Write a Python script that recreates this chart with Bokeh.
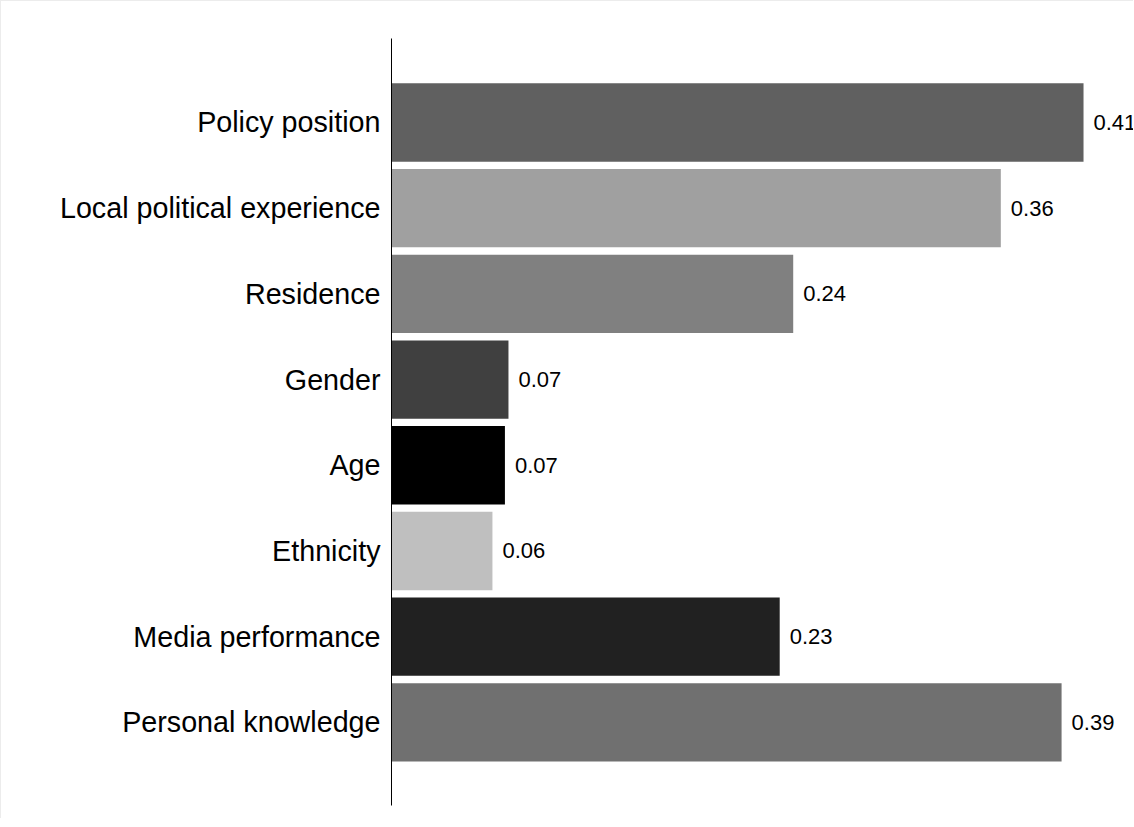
from bokeh.plotting import figure
from bokeh.models import ColumnDataSource, Range1d, FixedTicker
from bokeh.core.properties import value
from bokeh.embed import file_html
from bokeh.resources import INLINE

categories = ["Policy position", "Local political experience", "Residence", "Gender",
              "Age", "Ethnicity", "Media performance", "Personal knowledge"]
values = [0.41, 0.361, 0.238, 0.0693, 0.0672, 0.0598, 0.230, 0.397]
labels = ["0.41", "0.36", "0.24", "0.07", "0.07", "0.06", "0.23", "0.39"]
colors = ["#606060", "#a0a0a0", "#808080", "#404040", "#000000", "#bfbfbf", "#212121", "#707070"]

n = len(categories)
positions = [n - i for i in range(n)]

src = ColumnDataSource(dict(cat=categories, val=values, lab=labels, col=colors, pos=positions))

p = figure(width=1133, height=818, output_backend="svg", toolbar_location=None,
           x_range=Range1d(0, 0.4402), y_range=Range1d(0.03, 8.98),
           x_axis_location=None, min_border_left=390, min_border_right=0,
           min_border_top=37, min_border_bottom=14)
p.outline_line_color = None
p.grid.visible = False
p.background_fill_color = "white"
p.border_fill_color = "white"

p.hbar(y="pos", left=0, right="val", height=0.914, fill_color="col", line_color=None, source=src)
p.text(x="val", y="pos", text="lab", x_offset=10, text_baseline="middle", text_align="left",
       text_font=value("Liberation Sans"), text_font_size="22px", text_color="black", source=src)

ax = p.yaxis[0]
ax.ticker = FixedTicker(ticks=positions)
ax.major_label_overrides = {pos: c for pos, c in zip(positions, categories)}
ax.major_tick_line_color = None
ax.minor_tick_line_color = None
ax.major_tick_out = 0
ax.major_tick_in = 0
ax.major_label_standoff = 11
ax.major_label_text_font = "Liberation Sans"
ax.major_label_text_font_size = "28.7px"
ax.major_label_text_color = "black"
ax.axis_line_color = "black"
ax.axis_line_width = 1

p.styles = {"border-top": "1px solid #ececec", "border-left": "1px solid #ececec"}

open("out.html", "w").write(file_html(p, INLINE))
